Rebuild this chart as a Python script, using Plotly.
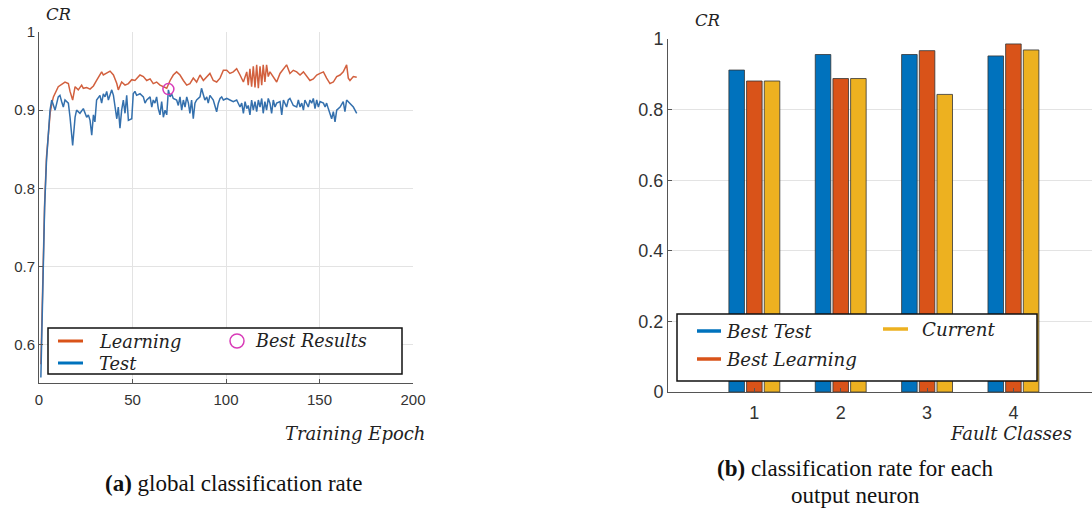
import plotly.graph_objects as go

# ---------------- data ----------------
learn_epoch = [1, 2, 3, 4, 5, 6, 7, 7.7, 10.3, 13.0, 13.9, 15.7, 16.6, 18.0, 19.3, 21.0, 22.8, 23.7, 25.5, 27.3,
               29.1, 30.8, 32.6, 33.5, 34.4, 36.2, 38.0, 39.8, 41.6, 42.4, 44.2, 46.0, 47.8, 49.6, 51.3, 54.0,
               55.8, 57.6, 59.4, 61.1, 62.9, 64.7, 66.5, 68.3, 70.1, 71.8, 73.6, 75.4, 77.2, 79.0, 80.7, 82.5,
               84.3, 86.1, 87.9, 89.7, 91.4, 93.2, 95.0, 96.8, 98.6, 100.4, 102.1, 103.9, 105.7, 107.5, 109.3,
               111.1, 111.9, 112.8, 113.7, 114.6, 115.5, 116.4, 117.3, 118.2, 119.1, 119.9, 120.8, 121.7, 122.6,
               123.5, 125.3, 127.1, 128.9, 130.7, 132.4, 134.2, 136.0, 137.8, 139.6, 141.4, 143.1, 144.9, 146.7,
               148.5, 150.3, 152.1, 153.8, 155.6, 157.4, 159.2, 161.0, 162.7, 164.5, 165.4, 166.3, 168.1, 169.9]
learn_cr = [0.575, 0.68, 0.78, 0.84, 0.875, 0.897, 0.91, 0.917, 0.930, 0.934, 0.936, 0.934, 0.924, 0.913, 0.930,
            0.926, 0.932, 0.928, 0.929, 0.927, 0.931, 0.938, 0.945, 0.949, 0.945, 0.947, 0.950, 0.945, 0.934,
            0.926, 0.936, 0.932, 0.934, 0.939, 0.938, 0.945, 0.943, 0.938, 0.940, 0.934, 0.936, 0.932, 0.930,
            0.928, 0.938, 0.945, 0.949, 0.945, 0.938, 0.932, 0.934, 0.941, 0.936, 0.945, 0.938, 0.943, 0.947,
            0.938, 0.936, 0.941, 0.951, 0.951, 0.947, 0.949, 0.953, 0.945, 0.936, 0.949, 0.932, 0.953, 0.930,
            0.956, 0.929, 0.958, 0.928, 0.956, 0.932, 0.958, 0.936, 0.958, 0.943, 0.949, 0.943, 0.936, 0.947,
            0.953, 0.958, 0.947, 0.951, 0.949, 0.945, 0.949, 0.943, 0.938, 0.940, 0.945, 0.947, 0.949, 0.941,
            0.934, 0.936, 0.943, 0.945, 0.949, 0.958, 0.941, 0.938, 0.943, 0.942]

test_epoch = [1, 2, 3, 4, 5, 5.9, 6.8, 8.6, 10.3, 11.2, 12.1, 13.0, 13.9, 15.7, 16.6, 18.0, 19.3, 20.1, 21.9,
              23.7, 25.5, 26.4, 27.3, 28.2, 29.1, 29.9, 30.8, 32.6, 33.5, 34.4, 35.3, 36.2, 37.1, 38.9, 39.8,
              41.6, 42.4, 43.3, 44.2, 45.1, 46.0, 46.9, 47.8, 49.6, 50.4, 51.3, 52.2, 54.0, 55.8, 56.7, 57.6,
              59.4, 60.3, 61.1, 62.0, 62.9, 63.8, 64.7, 65.6, 66.5, 67.4, 68.3, 69.2, 70.1, 70.9, 71.8, 73.6,
              74.5, 75.4, 76.3, 77.2, 78.1, 79.0, 79.9, 80.7, 81.6, 82.5, 83.4, 84.3, 86.1, 86.9, 87.8, 88.7,
              89.7, 90.5, 91.4, 93.2, 95.0, 95.9, 96.8, 97.7, 98.6, 100.4, 102.1, 103.9, 105.7, 107.5, 108.4,
              109.3, 110.2, 111.1, 111.9, 112.8, 113.7, 114.6, 115.5, 116.4, 117.3, 118.2, 119.1, 119.9, 120.8,
              121.7, 122.6, 123.5, 124.4, 125.3, 126.2, 127.1, 128.9, 129.8, 130.7, 131.6, 132.4, 133.3, 134.2,
              136.0, 137.8, 138.7, 139.6, 140.5, 141.4, 142.2, 143.1, 144.0, 144.9, 145.8, 146.7, 147.6, 148.5,
              149.4, 150.3, 152.1, 153.0, 153.8, 154.7, 155.6, 156.5, 157.4, 158.3, 159.2, 161.0, 162.7, 163.6,
              164.5, 165.4, 166.3, 168.1, 169.9]
test_cr = [0.558, 0.67, 0.775, 0.835, 0.87, 0.900, 0.913, 0.900, 0.917, 0.919, 0.911, 0.904, 0.913, 0.909, 0.891,
           0.855, 0.891, 0.900, 0.896, 0.902, 0.891, 0.894, 0.887, 0.868, 0.894, 0.885, 0.913, 0.919, 0.909, 0.921,
           0.917, 0.924, 0.913, 0.926, 0.919, 0.889, 0.904, 0.877, 0.900, 0.913, 0.896, 0.919, 0.887, 0.889, 0.921,
           0.924, 0.919, 0.921, 0.917, 0.909, 0.913, 0.917, 0.904, 0.913, 0.909, 0.917, 0.902, 0.894, 0.911, 0.891,
           0.900, 0.894, 0.926, 0.917, 0.921, 0.915, 0.913, 0.906, 0.917, 0.900, 0.913, 0.904, 0.917, 0.909, 0.896,
           0.913, 0.889, 0.909, 0.913, 0.917, 0.928, 0.919, 0.913, 0.917, 0.909, 0.919, 0.913, 0.898, 0.909, 0.915,
           0.917, 0.913, 0.915, 0.913, 0.911, 0.913, 0.904, 0.909, 0.896, 0.911, 0.902, 0.906, 0.894, 0.913, 0.900,
           0.911, 0.898, 0.913, 0.904, 0.915, 0.896, 0.911, 0.900, 0.915, 0.909, 0.896, 0.913, 0.904, 0.909, 0.911,
           0.894, 0.913, 0.909, 0.904, 0.913, 0.915, 0.906, 0.904, 0.913, 0.904, 0.909, 0.900, 0.913, 0.909, 0.904,
           0.913, 0.909, 0.915, 0.902, 0.913, 0.904, 0.911, 0.909, 0.904, 0.909, 0.902, 0.896, 0.889, 0.898, 0.885,
           0.900, 0.904, 0.911, 0.898, 0.913, 0.911, 0.909, 0.904, 0.896]

best_epoch = [69.2]
best_cr = [0.927]

classes = [1, 2, 3, 4]
best_test = [0.912, 0.956, 0.956, 0.952]
best_learning = [0.881, 0.888, 0.967, 0.986]
current = [0.881, 0.888, 0.843, 0.969]

x_ticks_a = [0, 50, 100, 150, 200]
y_ticks_a = [0.6, 0.7, 0.8, 0.9, 1]
y_ticks_b = [0, 0.2, 0.4, 0.6, 0.8, 1]

# ---------------- layout helpers ----------------
W, H = 1092, 508
def px(x):
    return x / W
def py(y):
    return 1 - y / H

BLUE = "#0072BD"
ORANGE = "#D95319"
YELLOW = "#EDB120"
MAG = "#d83cb8"
SERIF = "DejaVu Serif"
SANS = "Liberation Sans"
TICKC = "#333333"
GRID = "#e3e3e3"
AXC = "#555555"

fig = go.Figure()

fig.add_trace(go.Scatter(x=learn_epoch, y=learn_cr, mode="lines", line=dict(color="#d2603e", width=1.5),
                         xaxis="x", yaxis="y", showlegend=False))
fig.add_trace(go.Scatter(x=test_epoch, y=test_cr, mode="lines", line=dict(color="#3470ad", width=1.5),
                         xaxis="x", yaxis="y", showlegend=False))
fig.add_trace(go.Scatter(x=best_epoch, y=best_cr, mode="markers",
                         marker=dict(symbol="circle-open", size=11, color=MAG, line=dict(width=1.5, color=MAG)),
                         xaxis="x", yaxis="y", showlegend=False))

edge = dict(color="#333333", width=0.8)
fig.add_trace(go.Bar(x=classes, y=best_test, marker=dict(color=BLUE, line=edge), xaxis="x2", yaxis="y2", showlegend=False))
fig.add_trace(go.Bar(x=classes, y=best_learning, marker=dict(color=ORANGE, line=edge), xaxis="x2", yaxis="y2", showlegend=False))
fig.add_trace(go.Bar(x=classes, y=current, marker=dict(color=YELLOW, line=edge), xaxis="x2", yaxis="y2", showlegend=False))

tickfont_a = dict(family=SANS, size=15, color=TICKC)
tickfont_b = dict(family=SANS, size=18, color=TICKC)

fig.update_layout(
    width=W, height=H, margin=dict(l=0, r=0, t=0, b=0, pad=0, autoexpand=False),
    autosize=False,
    paper_bgcolor="white", plot_bgcolor="white",
    barmode="group", bargap=0.386, bargroupgap=0.12,
    xaxis=dict(domain=[px(39), px(413)], range=[0, 200], tickvals=x_ticks_a, ticktext=[str(v) for v in x_ticks_a],
               showgrid=True, gridcolor=GRID, gridwidth=1, zeroline=False, automargin=False,
               showline=True, linecolor=AXC, linewidth=1, ticks="inside", ticklen=4, tickcolor=AXC,
               tickfont=tickfont_a, anchor="y", ticklabelstandoff=3),
    yaxis=dict(domain=[py(383), py(32)], range=[0.551, 1], tickvals=y_ticks_a, ticktext=["0.6", "0.7", "0.8", "0.9", "1"],
               showgrid=True, gridcolor=GRID, gridwidth=1, zeroline=False, automargin=False,
               showline=True, linecolor=AXC, linewidth=1, ticks="inside", ticklen=4, tickcolor=AXC,
               tickfont=tickfont_a, anchor="x"),
    xaxis2=dict(domain=[px(668), 1.0], range=[0.0, 4.91], tickvals=classes, ticktext=[str(c) for c in classes],
                showgrid=False, zeroline=False, showline=True, linecolor=AXC, linewidth=1, automargin=False,
                ticks="inside", ticklen=4, tickcolor=AXC, tickfont=tickfont_b, anchor="y2", ticklabelstandoff=4),
    yaxis2=dict(domain=[py(392), py(39)], range=[0, 1], tickvals=y_ticks_b, ticktext=["0", "0.2", "0.4", "0.6", "0.8", "1"],
                showgrid=True, gridcolor=GRID, gridwidth=1, zeroline=False, automargin=False,
                showline=True, linecolor=AXC, linewidth=1, ticks="inside", ticklen=4, tickcolor=AXC,
                tickfont=tickfont_b, anchor="x2"),
)

shapes = []
annotations = []

def txt(x, y, s, size, family=SERIF, italic=True, color="#222222", xanchor="left"):
    annotations.append(dict(x=px(x), y=py(y), xref="paper", yref="paper", text=s, showarrow=False,
                            xanchor=xanchor, yanchor="middle",
                            font=dict(family=family, size=size, color=color, style="italic" if italic else "normal")))

# legend (a)
shapes.append(dict(type="rect", xref="paper", yref="paper", x0=px(48), x1=px(402), y0=py(374), y1=py(328),
                   line=dict(color="#111111", width=1.5), fillcolor="white", layer="above"))
shapes.append(dict(type="line", xref="paper", yref="paper", x0=px(58), x1=px(83), y0=py(341), y1=py(341),
                   line=dict(color=ORANGE, width=3), layer="above"))
shapes.append(dict(type="line", xref="paper", yref="paper", x0=px(58), x1=px(83), y0=py(363), y1=py(363),
                   line=dict(color=BLUE, width=3), layer="above"))
shapes.append(dict(type="circle", xref="paper", yref="paper", x0=px(230), x1=px(244), y0=py(348), y1=py(334),
                   line=dict(color=MAG, width=1.5), layer="above"))
txt(97, 341, "Learning", 17.8)
txt(97, 363, "Test", 17.8)
txt(253, 341, "Best Results", 17.6)

# legend (b)
shapes.append(dict(type="rect", xref="paper", yref="paper", x0=px(677), x1=px(1037), y0=py(381), y1=py(314),
                   line=dict(color="#111111", width=1.5), fillcolor="white", layer="above"))
shapes.append(dict(type="line", xref="paper", yref="paper", x0=px(697), x1=px(721), y0=py(331), y1=py(331),
                   line=dict(color=BLUE, width=3.5), layer="above"))
shapes.append(dict(type="line", xref="paper", yref="paper", x0=px(697), x1=px(721), y0=py(359), y1=py(359),
                   line=dict(color=ORANGE, width=3.5), layer="above"))
shapes.append(dict(type="line", xref="paper", yref="paper", x0=px(883), x1=px(908), y0=py(329), y1=py(329),
                   line=dict(color=YELLOW, width=3.5), layer="above"))
txt(724, 331, "Best Test", 18.2)
txt(724, 359, "Best Learning", 18.2)
txt(920, 329, "Current", 18.2)

# axis titles
txt(44, 15, "CR", 16.5)
txt(283, 433, "Training Epoch", 18)
txt(693, 20, "CR", 16.5)
txt(948, 433, "Fault Classes", 18)

# captions
CAP = dict(family="Liberation Serif", size=23, color="#111111")
annotations.append(dict(x=px(233), y=py(483), xref="paper", yref="paper", showarrow=False, xanchor="center",
                        yanchor="middle", text="<b>(a)</b> global classification rate", font=CAP))
annotations.append(dict(x=px(855), y=py(468), xref="paper", yref="paper", showarrow=False, xanchor="center",
                        yanchor="middle", text="<b>(b)</b> classification rate for each", font=CAP))
annotations.append(dict(x=px(855), y=py(495), xref="paper", yref="paper", showarrow=False, xanchor="center",
                        yanchor="middle", text="output neuron", font=CAP))

fig.update_layout(shapes=shapes, annotations=annotations)
fig.write_html("out.html")
